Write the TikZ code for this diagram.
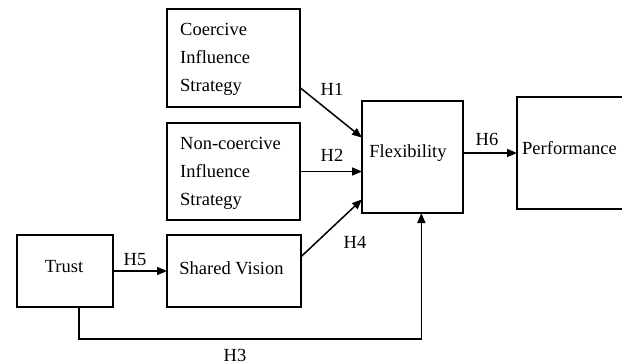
\documentclass[tikz,border=0pt]{standalone}
\usepackage{fontspec}
\setmainfont{Liberation Serif}
\usetikzlibrary{arrows.meta,calc}
\begin{document}
\begin{tikzpicture}[x=1pt,y=-1pt,
  box/.style={draw,line width=1.8pt,inner sep=0pt,outer sep=0pt},
  txt/.style={inner sep=0pt,align=left,font=\fontsize{18.5}{28}\selectfont},
  lbl/.style={inner sep=0pt,font=\fontsize{18.5}{22}\selectfont},
  arr/.style={line width=1.5pt,-{Triangle[length=10pt,width=8pt]}}]
\useasboundingbox (0,0) rectangle (622,364);
\clip (0,0) rectangle (622,364);
% boxes
\node[box,minimum width=133pt,minimum height=98pt] (coer) at (233.5,58) {};
\node[box,minimum width=133pt,minimum height=97pt] (nonc) at (233.5,171.5) {};
\node[box,minimum width=101pt,minimum height=112pt] (flex) at (412.5,157) {};
\node[box,minimum width=120pt,minimum height=112pt] (perf) at (577,153) {};
\node[box,minimum width=96pt,minimum height=72pt] (trust) at (65,271) {};
\node[box,minimum width=134pt,minimum height=72pt] (sv) at (234,271) {};
% texts
\node[txt,anchor=west] (coertxt) at (180,59) {Coercive\\Influence\\Strategy};
\node[txt,anchor=west] (nonctxt) at (180,173) {Non-coercive\\Influence\\Strategy};
\node[txt] (flextxt) at (408,153) {Flexibility};
\node[txt,anchor=west] (perftxt) at (522,148) {Performance};
\node[txt] (trusttxt) at (64,267) {Trust};
\node[txt] (svtxt) at (231.5,268) {Shared Vision};
% connectors
\draw[arr] (coer.-24) -- (flex.159);
\draw[arr] (nonc.east) -- (nonc.east -| flex.west);
\draw[arr] (sv.12) -- (flex.220);
\draw[arr] (trust.east) -- (sv.west);
\draw[arr] (perf.west -| flex.east) -- (perf.west);
\coordinate (h3y) at (0,339);
\draw[arr] (trust.-69) |- (flex.-81 |- h3y) -- (flex.-81);
% labels
\node[lbl] (h1) at (332,89) {H1};
\node[lbl] (h2) at (332,155) {H2};
\node[lbl] (h3) at (235,355) {H3};
\node[lbl] (h4) at (355,242) {H4};
\node[lbl] (h5) at (135,260) {H5};
\node[lbl] (h6) at (487,139) {H6};
\end{tikzpicture}
\end{document}
